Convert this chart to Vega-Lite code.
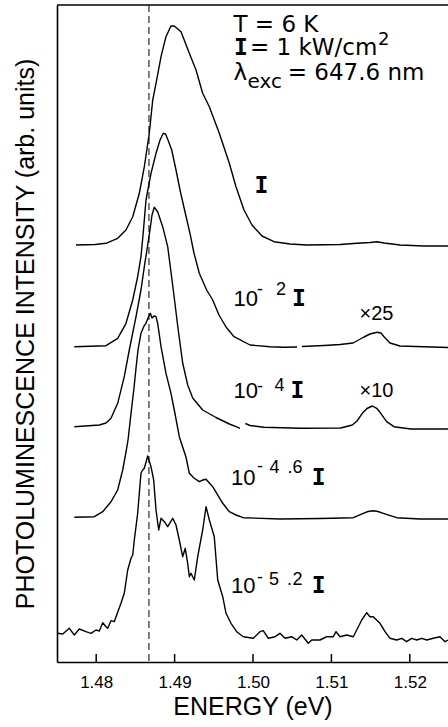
{
  "$schema": "https://vega.github.io/schema/vega-lite/v6.json",
  "width": 391,
  "height": 657,
  "autosize": {"type": "none"},
  "padding": {"left": 57, "top": 5, "right": 0, "bottom": 65},
  "background": "white",
  "config": {
    "view": {"stroke": null},
    "font": "Liberation Sans",
    "axisX": {"grid": false, "ticks": false,
      "titleFont": "Liberation Sans", "titleFontSize": 25, "titleFontWeight": "normal",
      "titleColor": "black", "titleY": 52, "titleBaseline": "alphabetic",
      "labelFont": "Liberation Sans", "labelFontSize": 17, "labelColor": "black", "labelPadding": 12,
      "domainColor": "black", "domainWidth": 1.6},
    "axisY": {"labels": false, "ticks": false, "grid": false,
      "titleFont": "Liberation Sans", "titleFontSize": 25,
      "titleFontWeight": "normal", "titleColor": "black", "titleX": -24, "titleBaseline": "alphabetic",
      "domainColor": "black", "domainWidth": 1.6}
  },
  "datasets": {
    "spectra": [
      {"E": 1.47742, "I": 417, "s": "c1"},
      {"E": 1.47985, "I": 417.5, "s": "c1"},
      {"E": 1.48125, "I": 418.7, "s": "c1"},
      {"E": 1.48274, "I": 423.7, "s": "c1"},
      {"E": 1.4838, "I": 432, "s": "c1"},
      {"E": 1.48466, "I": 445.3, "s": "c1"},
      {"E": 1.4855, "I": 468.7, "s": "c1"},
      {"E": 1.48614, "I": 495.3, "s": "c1"},
      {"E": 1.48677, "I": 528.7, "s": "c1"},
      {"E": 1.48721, "I": 562, "s": "c1"},
      {"E": 1.48763, "I": 578.7, "s": "c1"},
      {"E": 1.48827, "I": 605.3, "s": "c1"},
      {"E": 1.4889, "I": 625.3, "s": "c1"},
      {"E": 1.48954, "I": 636, "s": "c1"},
      {"E": 1.48996, "I": 636, "s": "c1"},
      {"E": 1.49082, "I": 630.3, "s": "c1"},
      {"E": 1.49188, "I": 608.7, "s": "c1"},
      {"E": 1.49273, "I": 592, "s": "c1"},
      {"E": 1.49358, "I": 568.7, "s": "c1"},
      {"E": 1.49443, "I": 555.3, "s": "c1"},
      {"E": 1.4957, "I": 528.7, "s": "c1"},
      {"E": 1.49698, "I": 498.7, "s": "c1"},
      {"E": 1.49783, "I": 475.3, "s": "c1"},
      {"E": 1.49885, "I": 452, "s": "c1"},
      {"E": 1.49987, "I": 437, "s": "c1"},
      {"E": 1.50115, "I": 426, "s": "c1"},
      {"E": 1.50268, "I": 420.3, "s": "c1"},
      {"E": 1.50472, "I": 418, "s": "c1"},
      {"E": 1.50689, "I": 417, "s": "c1"},
      {"E": 1.5111, "I": 417.5, "s": "c1"},
      {"E": 1.51327, "I": 418.7, "s": "c1"},
      {"E": 1.51492, "I": 419.5, "s": "c1"},
      {"E": 1.51582, "I": 420.2, "s": "c1"},
      {"E": 1.51671, "I": 419, "s": "c1"},
      {"E": 1.51875, "I": 417, "s": "c1"},
      {"E": 1.52181, "I": 416, "s": "c1"},
      {"E": 1.52487, "I": 416, "s": "c1"},

      {"E": 1.47721, "I": 315.3, "s": "c2a"},
      {"E": 1.48125, "I": 316.3, "s": "c2a"},
      {"E": 1.48274, "I": 323.7, "s": "c2a"},
      {"E": 1.4838, "I": 338.7, "s": "c2a"},
      {"E": 1.48466, "I": 362, "s": "c2a"},
      {"E": 1.48529, "I": 385.3, "s": "c2a"},
      {"E": 1.48571, "I": 405.3, "s": "c2a"},
      {"E": 1.48603, "I": 432, "s": "c2a"},
      {"E": 1.48635, "I": 462, "s": "c2a"},
      {"E": 1.48699, "I": 488.7, "s": "c2a"},
      {"E": 1.48763, "I": 508.7, "s": "c2a"},
      {"E": 1.48814, "I": 522, "s": "c2a"},
      {"E": 1.48856, "I": 528.7, "s": "c2a"},
      {"E": 1.48884, "I": 528, "s": "c2a"},
      {"E": 1.48916, "I": 522, "s": "c2a"},
      {"E": 1.48963, "I": 512, "s": "c2a"},
      {"E": 1.49018, "I": 492, "s": "c2a"},
      {"E": 1.49069, "I": 472, "s": "c2a"},
      {"E": 1.49133, "I": 450, "s": "c2a"},
      {"E": 1.49196, "I": 428.7, "s": "c2a"},
      {"E": 1.49247, "I": 409, "s": "c2a"},
      {"E": 1.49315, "I": 388.7, "s": "c2a"},
      {"E": 1.49409, "I": 372, "s": "c2a"},
      {"E": 1.49486, "I": 362, "s": "c2a"},
      {"E": 1.49566, "I": 347, "s": "c2a"},
      {"E": 1.49656, "I": 335, "s": "c2a"},
      {"E": 1.49758, "I": 325.3, "s": "c2a"},
      {"E": 1.49962, "I": 317, "s": "c2a"},
      {"E": 1.50217, "I": 315.3, "s": "c2a"},
      {"E": 1.50395, "I": 314.7, "s": "c2a"},
      {"E": 1.50561, "I": 315, "s": "c2a"},
      {"E": 1.50625, "I": 315.5, "s": "c2b"},
      {"E": 1.50906, "I": 316.5, "s": "c2b"},
      {"E": 1.5111, "I": 317.5, "s": "c2b"},
      {"E": 1.51276, "I": 319, "s": "c2b"},
      {"E": 1.51416, "I": 325, "s": "c2b"},
      {"E": 1.51492, "I": 328, "s": "c2b"},
      {"E": 1.51585, "I": 329.7, "s": "c2b"},
      {"E": 1.51633, "I": 329, "s": "c2b"},
      {"E": 1.51671, "I": 325.3, "s": "c2b"},
      {"E": 1.51747, "I": 319, "s": "c2b"},
      {"E": 1.51875, "I": 316, "s": "c2b"},
      {"E": 1.52181, "I": 315.3, "s": "c2b"},
      {"E": 1.52487, "I": 314.5, "s": "c2b"},

      {"E": 1.47721, "I": 235.3, "s": "c3a"},
      {"E": 1.4804, "I": 237, "s": "c3a"},
      {"E": 1.48125, "I": 239, "s": "c3a"},
      {"E": 1.48189, "I": 243.7, "s": "c3a"},
      {"E": 1.48274, "I": 258.7, "s": "c3a"},
      {"E": 1.48358, "I": 285.3, "s": "c3a"},
      {"E": 1.48422, "I": 312, "s": "c3a"},
      {"E": 1.48508, "I": 345.3, "s": "c3a"},
      {"E": 1.48571, "I": 372, "s": "c3a"},
      {"E": 1.48614, "I": 395.3, "s": "c3a"},
      {"E": 1.48657, "I": 417, "s": "c3a"},
      {"E": 1.48686, "I": 432, "s": "c3a"},
      {"E": 1.48712, "I": 447, "s": "c3a"},
      {"E": 1.48741, "I": 454.7, "s": "c3a"},
      {"E": 1.48784, "I": 450.3, "s": "c3a"},
      {"E": 1.48848, "I": 435.3, "s": "c3a"},
      {"E": 1.48912, "I": 415.3, "s": "c3a"},
      {"E": 1.48954, "I": 390, "s": "c3a"},
      {"E": 1.48996, "I": 364, "s": "c3a"},
      {"E": 1.49043, "I": 334, "s": "c3a"},
      {"E": 1.49103, "I": 299, "s": "c3a"},
      {"E": 1.49167, "I": 277, "s": "c3a"},
      {"E": 1.49231, "I": 264, "s": "c3a"},
      {"E": 1.49358, "I": 252, "s": "c3a"},
      {"E": 1.49528, "I": 244.5, "s": "c3a"},
      {"E": 1.49698, "I": 238, "s": "c3a"},
      {"E": 1.49783, "I": 235.3, "s": "c3a"},
      {"E": 1.49834, "I": 233.7, "s": "c3a"},
      {"E": 1.49902, "I": 238.5, "s": "c3b"},
      {"E": 1.49962, "I": 236.5, "s": "c3b"},
      {"E": 1.5014, "I": 234.7, "s": "c3b"},
      {"E": 1.506, "I": 233.7, "s": "c3b"},
      {"E": 1.51119, "I": 234, "s": "c3b"},
      {"E": 1.51267, "I": 237, "s": "c3b"},
      {"E": 1.51327, "I": 241, "s": "c3b"},
      {"E": 1.51394, "I": 248.7, "s": "c3b"},
      {"E": 1.51454, "I": 253.5, "s": "c3b"},
      {"E": 1.51522, "I": 256, "s": "c3b"},
      {"E": 1.51578, "I": 253.7, "s": "c3b"},
      {"E": 1.51629, "I": 248.7, "s": "c3b"},
      {"E": 1.51705, "I": 240.3, "s": "c3b"},
      {"E": 1.51798, "I": 235.3, "s": "c3b"},
      {"E": 1.52011, "I": 233, "s": "c3b"},
      {"E": 1.52487, "I": 233, "s": "c3b"},

      {"E": 1.47721, "I": 144.7, "s": "c4"},
      {"E": 1.47976, "I": 145.3, "s": "c4"},
      {"E": 1.48083, "I": 150.3, "s": "c4"},
      {"E": 1.48189, "I": 160.3, "s": "c4"},
      {"E": 1.48274, "I": 172, "s": "c4"},
      {"E": 1.48338, "I": 192, "s": "c4"},
      {"E": 1.4838, "I": 210, "s": "c4"},
      {"E": 1.48406, "I": 222, "s": "c4"},
      {"E": 1.48444, "I": 248.7, "s": "c4"},
      {"E": 1.48482, "I": 274, "s": "c4"},
      {"E": 1.48508, "I": 294, "s": "c4"},
      {"E": 1.48533, "I": 312, "s": "c4"},
      {"E": 1.48571, "I": 328.7, "s": "c4"},
      {"E": 1.4861, "I": 336, "s": "c4"},
      {"E": 1.48635, "I": 338.7, "s": "c4"},
      {"E": 1.48661, "I": 344, "s": "c4"},
      {"E": 1.4869, "I": 348.7, "s": "c4"},
      {"E": 1.48712, "I": 344, "s": "c4"},
      {"E": 1.48737, "I": 346, "s": "c4"},
      {"E": 1.48763, "I": 345.3, "s": "c4"},
      {"E": 1.48784, "I": 338.7, "s": "c4"},
      {"E": 1.48827, "I": 315.3, "s": "c4"},
      {"E": 1.4889, "I": 288.7, "s": "c4"},
      {"E": 1.48954, "I": 268.7, "s": "c4"},
      {"E": 1.48996, "I": 252, "s": "c4"},
      {"E": 1.4906, "I": 225.3, "s": "c4"},
      {"E": 1.49145, "I": 205, "s": "c4"},
      {"E": 1.49188, "I": 188.7, "s": "c4"},
      {"E": 1.49247, "I": 184, "s": "c4"},
      {"E": 1.49315, "I": 180.3, "s": "c4"},
      {"E": 1.49362, "I": 182, "s": "c4"},
      {"E": 1.49401, "I": 182.7, "s": "c4"},
      {"E": 1.49486, "I": 175.3, "s": "c4"},
      {"E": 1.49614, "I": 158.7, "s": "c4"},
      {"E": 1.49698, "I": 150.3, "s": "c4"},
      {"E": 1.49783, "I": 147, "s": "c4"},
      {"E": 1.49876, "I": 144.3, "s": "c4"},
      {"E": 1.50344, "I": 143, "s": "c4"},
      {"E": 1.50855, "I": 143.5, "s": "c4"},
      {"E": 1.51279, "I": 144.3, "s": "c4"},
      {"E": 1.51407, "I": 148.7, "s": "c4"},
      {"E": 1.51467, "I": 150.5, "s": "c4"},
      {"E": 1.51534, "I": 151.3, "s": "c4"},
      {"E": 1.51594, "I": 150.5, "s": "c4"},
      {"E": 1.51662, "I": 148.7, "s": "c4"},
      {"E": 1.51833, "I": 144.3, "s": "c4"},
      {"E": 1.5213, "I": 143, "s": "c4"},
      {"E": 1.52487, "I": 143, "s": "c4"},

      {"E": 1.475, "I": 28.7, "s": "c5"},
      {"E": 1.47573, "I": 28, "s": "c5"},
      {"E": 1.47657, "I": 33.7, "s": "c5"},
      {"E": 1.47721, "I": 27, "s": "c5"},
      {"E": 1.47784, "I": 33, "s": "c5"},
      {"E": 1.4787, "I": 30.3, "s": "c5"},
      {"E": 1.47934, "I": 28.7, "s": "c5"},
      {"E": 1.47997, "I": 32, "s": "c5"},
      {"E": 1.4804, "I": 31, "s": "c5"},
      {"E": 1.48083, "I": 39.3, "s": "c5"},
      {"E": 1.48125, "I": 35.3, "s": "c5"},
      {"E": 1.48147, "I": 33.7, "s": "c5"},
      {"E": 1.48189, "I": 41.3, "s": "c5"},
      {"E": 1.48231, "I": 40.3, "s": "c5"},
      {"E": 1.48253, "I": 45.3, "s": "c5"},
      {"E": 1.48316, "I": 58.7, "s": "c5"},
      {"E": 1.48358, "I": 68.7, "s": "c5"},
      {"E": 1.48402, "I": 92, "s": "c5"},
      {"E": 1.48444, "I": 103.7, "s": "c5"},
      {"E": 1.48466, "I": 107, "s": "c5"},
      {"E": 1.48486, "I": 122, "s": "c5"},
      {"E": 1.48529, "I": 148.7, "s": "c5"},
      {"E": 1.48571, "I": 188.7, "s": "c5"},
      {"E": 1.48593, "I": 192, "s": "c5"},
      {"E": 1.48614, "I": 193.7, "s": "c5"},
      {"E": 1.48657, "I": 206, "s": "c5"},
      {"E": 1.48699, "I": 195.3, "s": "c5"},
      {"E": 1.48733, "I": 182, "s": "c5"},
      {"E": 1.48763, "I": 152, "s": "c5"},
      {"E": 1.48797, "I": 132, "s": "c5"},
      {"E": 1.48827, "I": 143.7, "s": "c5"},
      {"E": 1.48869, "I": 140.3, "s": "c5"},
      {"E": 1.48912, "I": 135.3, "s": "c5"},
      {"E": 1.48976, "I": 143.7, "s": "c5"},
      {"E": 1.49018, "I": 137, "s": "c5"},
      {"E": 1.4906, "I": 122, "s": "c5"},
      {"E": 1.49103, "I": 105.3, "s": "c5"},
      {"E": 1.49136, "I": 113.7, "s": "c5"},
      {"E": 1.49167, "I": 98.7, "s": "c5"},
      {"E": 1.49188, "I": 85.3, "s": "c5"},
      {"E": 1.49209, "I": 88.7, "s": "c5"},
      {"E": 1.49251, "I": 82, "s": "c5"},
      {"E": 1.49295, "I": 105.3, "s": "c5"},
      {"E": 1.49358, "I": 132, "s": "c5"},
      {"E": 1.49401, "I": 155.3, "s": "c5"},
      {"E": 1.49443, "I": 142, "s": "c5"},
      {"E": 1.49506, "I": 125.3, "s": "c5"},
      {"E": 1.4955, "I": 82, "s": "c5"},
      {"E": 1.49614, "I": 65.3, "s": "c5"},
      {"E": 1.49656, "I": 48.7, "s": "c5"},
      {"E": 1.49719, "I": 38.7, "s": "c5"},
      {"E": 1.49792, "I": 30.3, "s": "c5"},
      {"E": 1.49876, "I": 25.3, "s": "c5"},
      {"E": 1.50004, "I": 23.7, "s": "c5"},
      {"E": 1.50089, "I": 30.3, "s": "c5"},
      {"E": 1.50131, "I": 31.3, "s": "c5"},
      {"E": 1.50195, "I": 23.7, "s": "c5"},
      {"E": 1.50281, "I": 25.3, "s": "c5"},
      {"E": 1.50344, "I": 28.7, "s": "c5"},
      {"E": 1.50408, "I": 23.7, "s": "c5"},
      {"E": 1.50494, "I": 25.3, "s": "c5"},
      {"E": 1.50557, "I": 22, "s": "c5"},
      {"E": 1.50621, "I": 27, "s": "c5"},
      {"E": 1.50705, "I": 18.7, "s": "c5"},
      {"E": 1.50749, "I": 22, "s": "c5"},
      {"E": 1.50855, "I": 22, "s": "c5"},
      {"E": 1.5094, "I": 25.3, "s": "c5"},
      {"E": 1.51024, "I": 25.3, "s": "c5"},
      {"E": 1.51059, "I": 30.3, "s": "c5"},
      {"E": 1.5111, "I": 25.3, "s": "c5"},
      {"E": 1.51195, "I": 27, "s": "c5"},
      {"E": 1.51279, "I": 25.3, "s": "c5"},
      {"E": 1.51323, "I": 32, "s": "c5"},
      {"E": 1.51387, "I": 42, "s": "c5"},
      {"E": 1.5145, "I": 49.3, "s": "c5"},
      {"E": 1.51492, "I": 45.3, "s": "c5"},
      {"E": 1.51534, "I": 45.3, "s": "c5"},
      {"E": 1.5162, "I": 38.7, "s": "c5"},
      {"E": 1.51684, "I": 30.3, "s": "c5"},
      {"E": 1.51747, "I": 23.7, "s": "c5"},
      {"E": 1.51833, "I": 22, "s": "c5"},
      {"E": 1.51897, "I": 23.7, "s": "c5"},
      {"E": 1.5196, "I": 20.3, "s": "c5"},
      {"E": 1.52024, "I": 23.7, "s": "c5"},
      {"E": 1.52088, "I": 22, "s": "c5"},
      {"E": 1.52152, "I": 23.7, "s": "c5"},
      {"E": 1.52216, "I": 22, "s": "c5"},
      {"E": 1.523, "I": 23.7, "s": "c5"},
      {"E": 1.52385, "I": 25.3, "s": "c5"},
      {"E": 1.52449, "I": 20.3, "s": "c5"},
      {"E": 1.52487, "I": 22, "s": "c5"}
    ],
    "ticks": [
      {"E": 1.48}, {"E": 1.49}, {"E": 1.5}, {"E": 1.51}, {"E": 1.52}
    ],
    "labels": [
      {"E": 1.49751, "I": 356, "text": "10", "kind": "big"},
      {"E": 1.49751, "I": 263.7, "text": "10", "kind": "big"},
      {"E": 1.49719, "I": 177, "text": "10", "kind": "big"},
      {"E": 1.49719, "I": 68.7, "text": "10", "kind": "big"},
      {"E": 1.50051, "I": 367, "text": "-", "kind": "exp"},
      {"E": 1.50293, "I": 367, "text": "2", "kind": "exp"},
      {"E": 1.50051, "I": 270.4, "text": "-", "kind": "exp"},
      {"E": 1.50274, "I": 271.3, "text": "4", "kind": "exp"},
      {"E": 1.50051, "I": 190.4, "text": "-", "kind": "exp"},
      {"E": 1.50211, "I": 188.7, "text": "4", "kind": "exp"},
      {"E": 1.5044, "I": 188.7, "text": ".", "kind": "exp"},
      {"E": 1.50504, "I": 188.7, "text": "6", "kind": "exp"},
      {"E": 1.50051, "I": 79, "text": "-", "kind": "exp"},
      {"E": 1.50204, "I": 77, "text": "5", "kind": "exp"},
      {"E": 1.50434, "I": 77, "text": ".", "kind": "exp"},
      {"E": 1.50504, "I": 77, "text": "2", "kind": "exp"},
      {"E": 1.50108, "I": 468.7, "text": "I", "kind": "sym"},
      {"E": 1.50587, "I": 356, "text": "I", "kind": "sym"},
      {"E": 1.50568, "I": 263.7, "text": "I", "kind": "sym"},
      {"E": 1.50839, "I": 177, "text": "I", "kind": "sym"},
      {"E": 1.50839, "I": 68.7, "text": "I", "kind": "sym"},
      {"E": 1.49847, "I": 607, "text": "I", "kind": "sym"},
      {"E": 1.51358, "I": 342, "text": "×25", "kind": "mult"},
      {"E": 1.51358, "I": 265.3, "text": "×10", "kind": "mult"},
      {"E": 1.49751, "I": 630.3, "text": "T = 6 K", "kind": "ann"},
      {"E": 1.49962, "I": 607, "text": "= 1 kW/cm", "kind": "ann"},
      {"E": 1.49751, "I": 582, "text": "λ", "kind": "ann"},
      {"E": 1.50443, "I": 582, "text": "= 647.6 nm", "kind": "ann"},
      {"E": 1.4993, "I": 573.7, "text": "exc", "kind": "annsub"},
      {"E": 1.51594, "I": 617, "text": "2", "kind": "annsup"}
    ]
  },
  "layer": [
    {
      "data": {"name": "spectra"},
      "mark": {"type": "line", "color": "black", "strokeWidth": 1.4, "strokeJoin": "round"},
      "encoding": {
        "x": {"field": "E", "type": "quantitative", "title": "ENERGY (eV)",
          "scale": {"domain": [1.475, 1.524872], "nice": false, "zero": false},
          "axis": {"values": [1.48, 1.49, 1.5, 1.51, 1.52], "format": ".2f"}},
        "y": {"field": "I", "type": "quantitative", "title": "PHOTOLUMINESCENCE INTENSITY (arb. units)",
          "scale": {"domain": [0, 657], "nice": false, "zero": false}},
        "detail": {"field": "s"}
      }
    },
    {
      "data": {"name": "ticks"},
      "mark": {"type": "rule", "color": "black", "strokeWidth": 1.5},
      "encoding": {
        "x": {"field": "E", "type": "quantitative", "title": "ENERGY (eV)", "scale": {"domain": [1.475, 1.524872], "nice": false, "zero": false}},
        "y": {"datum": 0, "type": "quantitative", "scale": {"domain": [0, 657], "nice": false, "zero": false}},
        "y2": {"datum": 8}
      }
    },
    {
      "data": {"values": [{"E": 1.48673}]},
      "mark": {"type": "rule", "color": "black", "strokeWidth": 1, "strokeDash": [7, 4]},
      "encoding": {
        "x": {"field": "E", "type": "quantitative", "title": "ENERGY (eV)", "scale": {"domain": [1.475, 1.524872], "nice": false, "zero": false}}
      }
    },
    {
      "data": {"values": [{"I": 657}]},
      "mark": {"type": "rule", "color": "black", "strokeWidth": 1.6},
      "encoding": {
        "y": {"field": "I", "type": "quantitative", "title": "PHOTOLUMINESCENCE INTENSITY (arb. units)", "scale": {"domain": [0, 657], "nice": false, "zero": false}}
      }
    },
    {
      "data": {"name": "labels"},
      "transform": [{"filter": "datum.kind === 'big'"}],
      "mark": {"type": "text", "align": "left", "baseline": "alphabetic", "font": "Liberation Sans", "fontSize": 22, "color": "black"},
      "encoding": {
        "x": {"field": "E", "type": "quantitative", "title": "ENERGY (eV)", "scale": {"domain": [1.475, 1.524872], "nice": false, "zero": false}},
        "y": {"field": "I", "type": "quantitative", "title": "PHOTOLUMINESCENCE INTENSITY (arb. units)", "scale": {"domain": [0, 657], "nice": false, "zero": false}},
        "text": {"field": "text"}
      }
    },
    {
      "data": {"name": "labels"},
      "transform": [{"filter": "datum.kind === 'exp'"}],
      "mark": {"type": "text", "align": "left", "baseline": "alphabetic", "font": "Liberation Sans", "fontSize": 18, "color": "black"},
      "encoding": {
        "x": {"field": "E", "type": "quantitative", "title": "ENERGY (eV)", "scale": {"domain": [1.475, 1.524872], "nice": false, "zero": false}},
        "y": {"field": "I", "type": "quantitative", "title": "PHOTOLUMINESCENCE INTENSITY (arb. units)", "scale": {"domain": [0, 657], "nice": false, "zero": false}},
        "text": {"field": "text"}
      }
    },
    {
      "data": {"name": "labels"},
      "transform": [{"filter": "datum.kind === 'sym'"}],
      "mark": {"type": "text", "align": "center", "baseline": "alphabetic", "font": "DejaVu Sans Mono", "fontSize": 23, "fontWeight": "bold", "color": "black"},
      "encoding": {
        "x": {"field": "E", "type": "quantitative", "title": "ENERGY (eV)", "scale": {"domain": [1.475, 1.524872], "nice": false, "zero": false}},
        "y": {"field": "I", "type": "quantitative", "title": "PHOTOLUMINESCENCE INTENSITY (arb. units)", "scale": {"domain": [0, 657], "nice": false, "zero": false}},
        "text": {"field": "text"}
      }
    },
    {
      "data": {"name": "labels"},
      "transform": [{"filter": "datum.kind === 'mult'"}],
      "mark": {"type": "text", "align": "left", "baseline": "alphabetic", "font": "Liberation Sans", "fontSize": 20, "color": "black"},
      "encoding": {
        "x": {"field": "E", "type": "quantitative", "title": "ENERGY (eV)", "scale": {"domain": [1.475, 1.524872], "nice": false, "zero": false}},
        "y": {"field": "I", "type": "quantitative", "title": "PHOTOLUMINESCENCE INTENSITY (arb. units)", "scale": {"domain": [0, 657], "nice": false, "zero": false}},
        "text": {"field": "text"}
      }
    },
    {
      "data": {"name": "labels"},
      "transform": [{"filter": "datum.kind === 'ann'"}],
      "mark": {"type": "text", "align": "left", "baseline": "alphabetic", "font": "DejaVu Sans", "fontSize": 23, "color": "black"},
      "encoding": {
        "x": {"field": "E", "type": "quantitative", "title": "ENERGY (eV)", "scale": {"domain": [1.475, 1.524872], "nice": false, "zero": false}},
        "y": {"field": "I", "type": "quantitative", "title": "PHOTOLUMINESCENCE INTENSITY (arb. units)", "scale": {"domain": [0, 657], "nice": false, "zero": false}},
        "text": {"field": "text"}
      }
    },
    {
      "data": {"name": "labels"},
      "transform": [{"filter": "datum.kind === 'annsub'"}],
      "mark": {"type": "text", "align": "left", "baseline": "alphabetic", "font": "DejaVu Sans", "fontSize": 20, "color": "black"},
      "encoding": {
        "x": {"field": "E", "type": "quantitative", "title": "ENERGY (eV)", "scale": {"domain": [1.475, 1.524872], "nice": false, "zero": false}},
        "y": {"field": "I", "type": "quantitative", "title": "PHOTOLUMINESCENCE INTENSITY (arb. units)", "scale": {"domain": [0, 657], "nice": false, "zero": false}},
        "text": {"field": "text"}
      }
    },
    {
      "data": {"name": "labels"},
      "transform": [{"filter": "datum.kind === 'annsup'"}],
      "mark": {"type": "text", "align": "left", "baseline": "alphabetic", "font": "DejaVu Sans", "fontSize": 18, "color": "black"},
      "encoding": {
        "x": {"field": "E", "type": "quantitative", "title": "ENERGY (eV)", "scale": {"domain": [1.475, 1.524872], "nice": false, "zero": false}},
        "y": {"field": "I", "type": "quantitative", "title": "PHOTOLUMINESCENCE INTENSITY (arb. units)", "scale": {"domain": [0, 657], "nice": false, "zero": false}},
        "text": {"field": "text"}
      }
    }
  ]
}
